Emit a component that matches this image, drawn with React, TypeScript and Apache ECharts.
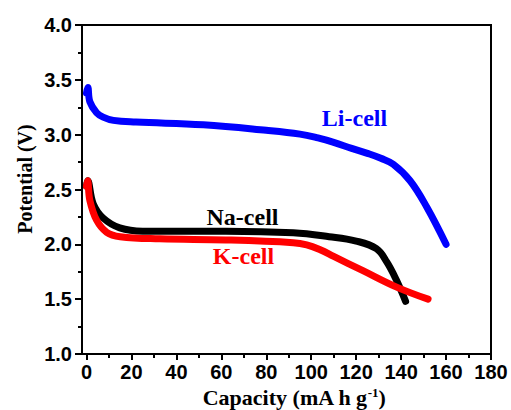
import React, { useEffect, useRef } from "react";
import * as echarts from "echarts";

const liCap = [0, 0.6, 1.5, 4.5, 7.4, 12, 22, 52, 80, 95, 103, 110, 118, 125, 131, 136.5, 144, 151.4, 160];
const liV = [3.38, 3.43, 3.3, 3.2, 3.16, 3.13, 3.115, 3.09, 3.04, 3.005, 2.97, 2.93, 2.875, 2.83, 2.785, 2.73, 2.58, 2.34, 2.0];

const naCap = [0, 0.5, 3, 7.4, 14.8, 25, 62, 92, 108, 120, 129, 133.6, 138, 142];
const naV = [2.53, 2.58, 2.37, 2.24, 2.15, 2.12, 2.12, 2.105, 2.07, 2.03, 1.96, 1.84, 1.67, 1.48];

const kCap = [0, 0.5, 1.5, 4.5, 9, 15, 32.6, 62, 92, 98, 104, 110, 123, 138, 152];
const kV = [2.53, 2.58, 2.4, 2.22, 2.11, 2.07, 2.05, 2.04, 2.015, 1.995, 1.95, 1.89, 1.76, 1.61, 1.5];

const xMajorTicks = [0, 20, 40, 60, 80, 100, 120, 140, 160, 180];
const xMinorTicks = [10, 30, 50, 70, 90, 110, 130, 150, 170];

const pairs = (xs: number[], ys: number[]) => xs.map((x, i) => [x, ys[i]]);

const SANS = "'Liberation Sans', Arial, sans-serif";
const SERIF = "'Liberation Serif', 'Times New Roman', serif";

export default function App() {
  const ref = useRef<HTMLDivElement>(null);
  useEffect(() => {
    if (!ref.current) return;
    const chart = echarts.init(ref.current, null, { renderer: "svg" });
    const lineSeries = (name: string, color: string, data: number[][]) => ({
      name,
      type: "line",
      data,
      showSymbol: false,
      symbol: "none",
      smooth: 0.4,
      lineStyle: { color, width: 7, cap: "round", join: "round" },
      itemStyle: { color },
      z: 3,
    });
    chart.setOption({
      animation: false,
      backgroundColor: "#fff",
      grid: {
        left: 82,
        right: 20,
        top: 25,
        bottom: 56,
        show: true,
        borderColor: "#000",
        borderWidth: 2,
      },
      xAxis: [
        {
          type: "value",
          min: -2,
          max: 180,
          position: "bottom",
          axisLine: { show: true, onZero: false, lineStyle: { color: "#000", width: 2 } },
          axisTick: {
            show: true,
            customValues: xMajorTicks,
            length: 6,
            lineStyle: { color: "#000", width: 2 },
          },
          axisLabel: {
            customValues: xMajorTicks,
            color: "#000",
            fontFamily: SANS,
            fontWeight: "bold",
            fontSize: 20,
            margin: 8,
          },
          splitLine: { show: false },
        },
        {
          type: "value",
          min: -2,
          max: 180,
          position: "bottom",
          axisLine: { show: false, onZero: false },
          axisTick: {
            show: true,
            customValues: xMinorTicks,
            length: 4,
            lineStyle: { color: "#000", width: 2 },
          },
          axisLabel: { show: false },
          splitLine: { show: false },
        },
      ],
      yAxis: {
        type: "value",
        min: 1,
        max: 4,
        interval: 0.5,
        axisLine: { show: true, onZero: false, lineStyle: { color: "#000", width: 2 } },
        axisTick: { show: true, length: 7, lineStyle: { color: "#000", width: 2 } },
        minorTick: { show: true, splitNumber: 2, length: 4, lineStyle: { color: "#000", width: 2 } },
        axisLabel: {
          color: "#000",
          fontFamily: SANS,
          fontWeight: "bold",
          fontSize: 20,
          margin: 10,
          formatter: (v: number) => v.toFixed(1),
        },
        splitLine: { show: false },
      },
      series: [
        lineSeries("Li-cell", "#0000ff", pairs(liCap, liV)),
        lineSeries("Na-cell", "#000000", pairs(naCap, naV)),
        lineSeries("K-cell", "#ff0000", pairs(kCap, kV)),
      ],
      graphic: [
        {
          type: "text",
          x: 25,
          y: 179,
          rotation: Math.PI / 2,
          style: {
            text: "Potential (V)",
            fill: "#000",
            font: `bold 20px ${SERIF}`,
            textAlign: "center",
            textVerticalAlign: "middle",
          },
        },
        {
          type: "text",
          x: 294,
          y: 397,
          style: {
            text: "{m|Capacity (mA h g}{s|-1}{m|)}",
            textAlign: "center",
            textVerticalAlign: "middle",
            rich: {
              m: { fontFamily: SERIF, fontWeight: "bold", fontSize: 22, fill: "#000" },
              s: { fontFamily: SERIF, fontWeight: "bold", fontSize: 13, fill: "#000", verticalAlign: "top" },
            },
          },
        },
        {
          type: "text",
          x: 354.5,
          y: 118,
          style: {
            text: "Li-cell",
            fill: "#0000ff",
            font: `bold 24px ${SERIF}`,
            textAlign: "center",
            textVerticalAlign: "middle",
          },
        },
        {
          type: "text",
          x: 242.5,
          y: 217,
          style: {
            text: "Na-cell",
            fill: "#000",
            font: `bold 24px ${SERIF}`,
            textAlign: "center",
            textVerticalAlign: "middle",
          },
        },
        {
          type: "text",
          x: 243.5,
          y: 255.5,
          style: {
            text: "K-cell",
            fill: "#ff0000",
            font: `bold 24px ${SERIF}`,
            textAlign: "center",
            textVerticalAlign: "middle",
          },
        },
      ],
    });
    return () => chart.dispose();
  }, []);
  return (
    <div
      ref={ref}
      style={{ position: "absolute", left: 0, top: 0, width: 511, height: 410 }}
    />
  );
}
